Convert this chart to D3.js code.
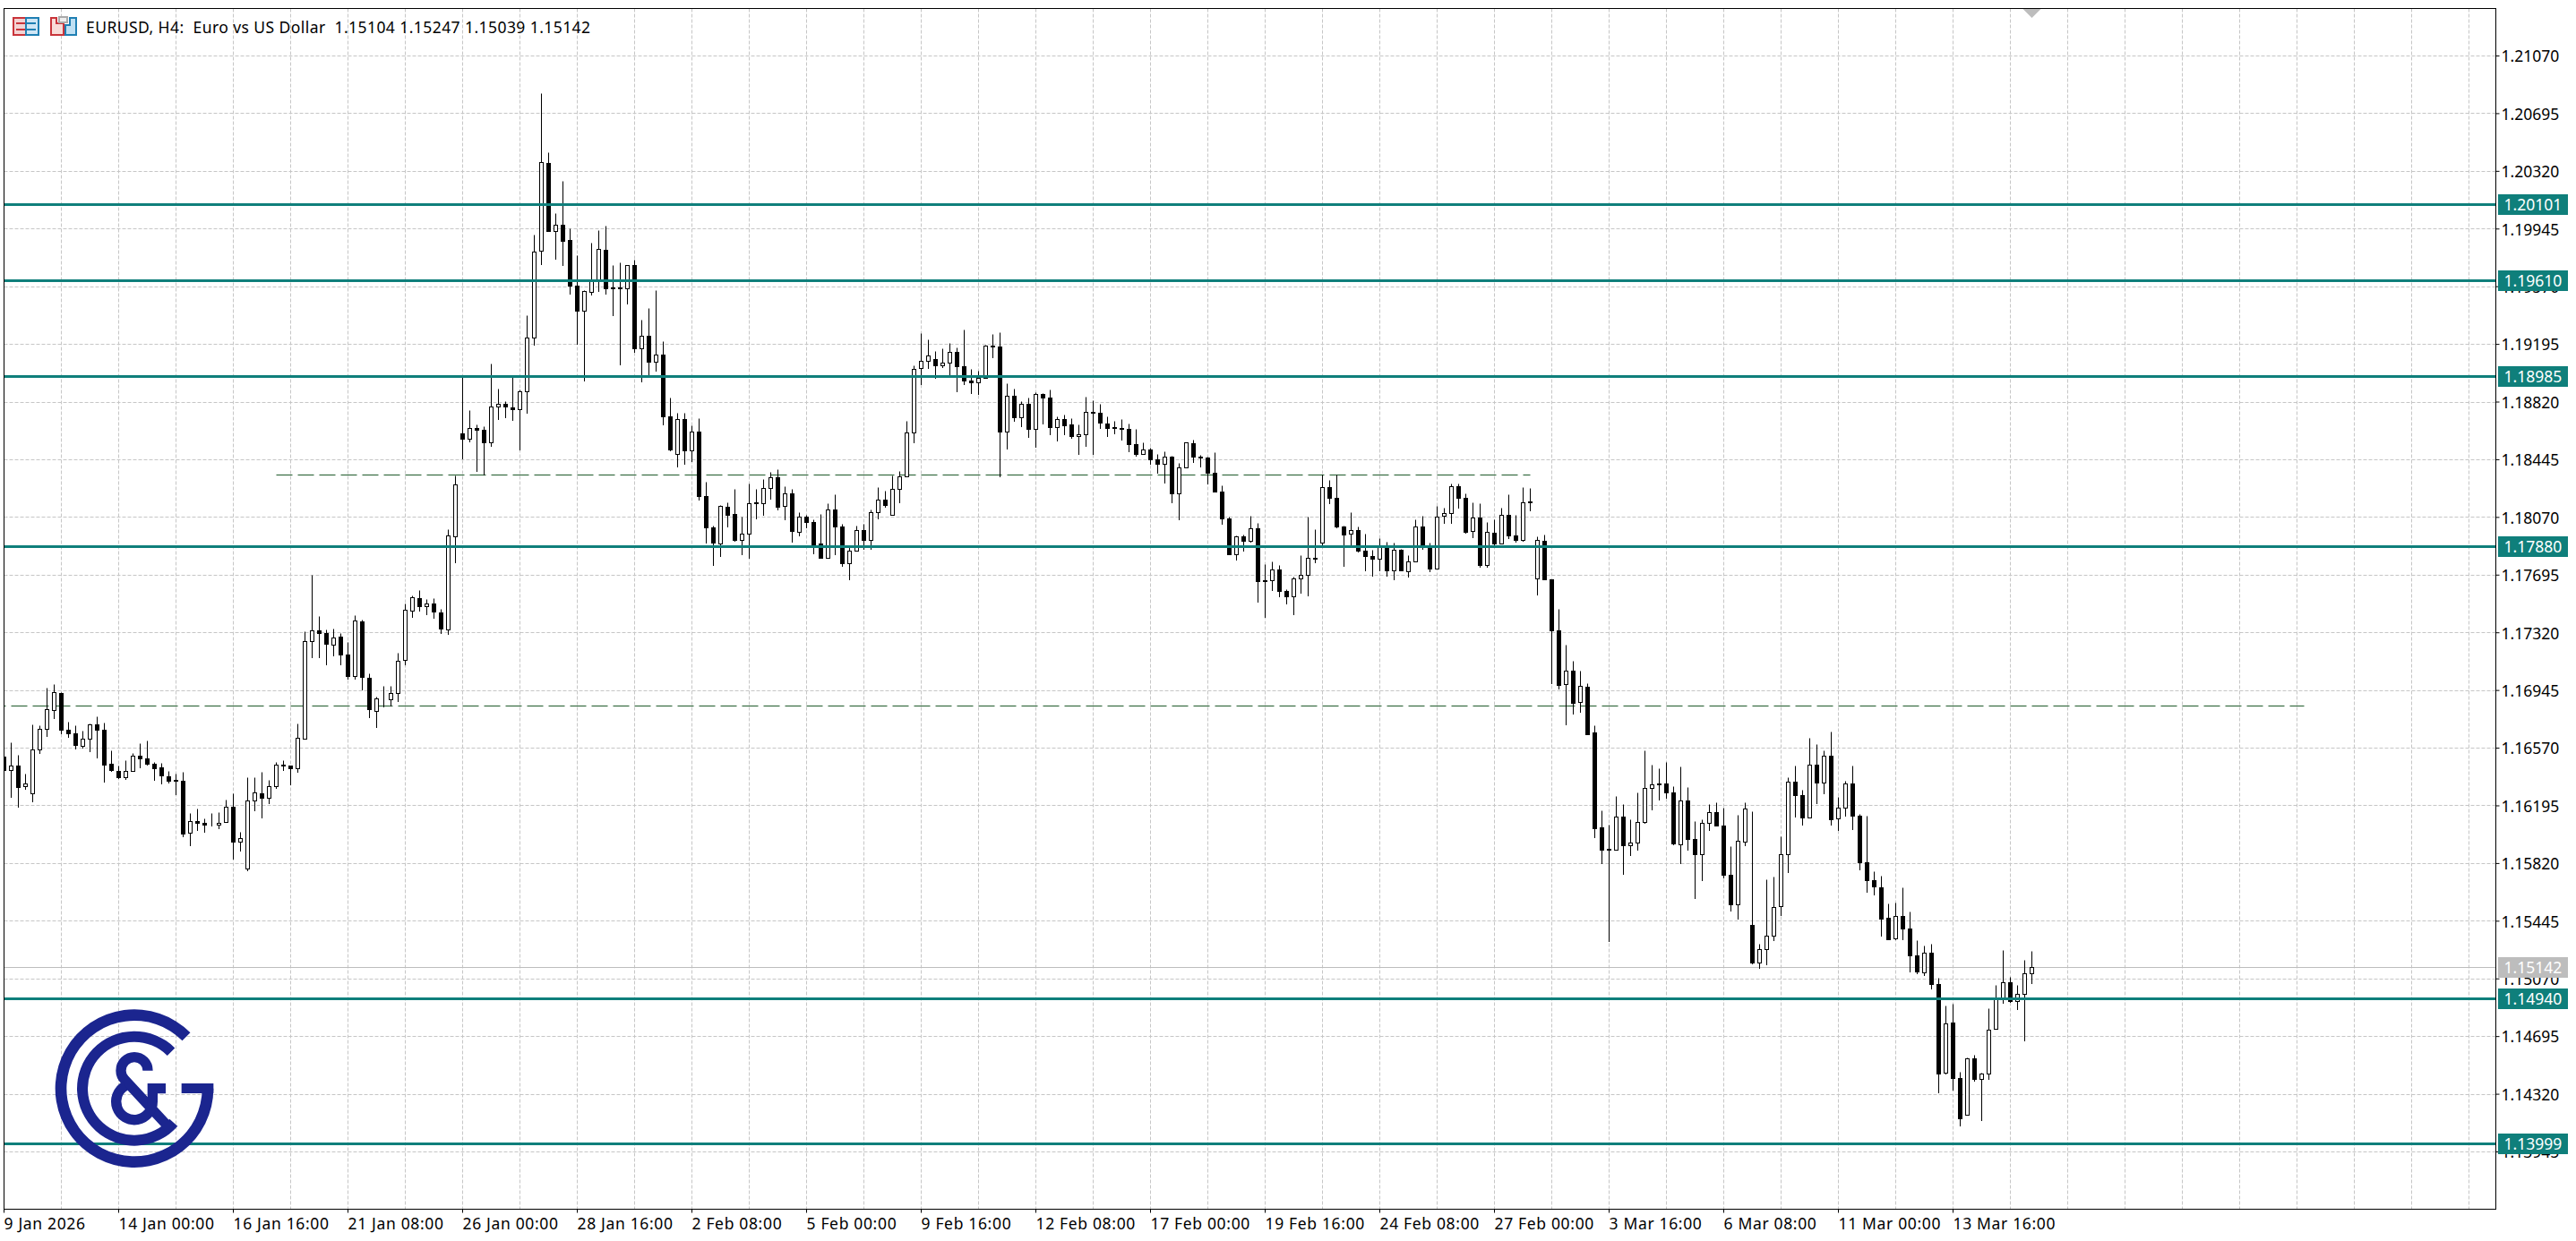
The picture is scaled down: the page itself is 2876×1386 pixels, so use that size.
<!DOCTYPE html>
<html><head><meta charset="utf-8">
<script src="https://cdn.jsdelivr.net/npm/d3@7/dist/d3.min.js"></script>
<style>html,body{margin:0;padding:0;background:#fff;overflow:hidden}svg{display:block}text{font-family:"Noto Sans",Tahoma,sans-serif}</style>
</head><body><svg id="c" width="2876" height="1386"></svg>
<script>
// Prices in points (1 point = 0.00001)
const opens = [
116515,116426,116455,116321,116275,116560,116694,116816,116926,116688,
116664,116581,116630,116723,116688,116467,116420,116377,116420,116519,
116502,116467,116443,116385,116360,116356,116018,116094,116083,116067,
116069,116088,116187,115960,115784,116228,116275,116245,116321,116459,
116455,116438,116630,117264,117334,117316,117241,117293,117177,117037,
117392,117025,116808,116882,116886,116926,117142,117462,117543,117491,
117510,117452,117336,117945,118611,118580,118649,118638,118555,118789,
118805,118785,118771,118887,119237,119803,120371,119930,119970,119868,
119573,119413,119533,119609,119807,119562,119562,119558,119709,119166,
119248,119079,119128,118725,118480,118707,118502,118624,118206,118005,
117896,118139,118090,117921,117961,118166,118159,118259,118328,118141,
118223,117972,118072,118036,117896,117805,118119,118010,117771,117853,
117986,117922,118103,118184,118085,118254,118336,118621,119040,119086,
119098,119057,119075,119145,119051,118958,118947,118976,119185,119180,
118625,118859,118718,118807,118644,118869,118848,118656,118708,118673,
118598,118609,118755,118749,118679,118656,118650,118644,118545,118481,
118510,118446,118415,118464,118223,118392,118551,118464,118458,118357,
118237,118062,117829,117946,117915,117997,117660,117660,117730,117590,
117553,117671,117693,117807,117904,118265,118195,118009,117962,117986,
117852,117817,117799,117875,117724,117858,117718,117782,118009,117887,
117735,118077,118096,118271,118195,117980,118067,117757,117968,117898,
118085,117951,117920,118172,117671,117916,117666,117335,116982,117071,
116868,116967,116670,116053,115911,115906,116123,115935,115952,116086,
116309,116338,116338,116280,115942,116228,115977,115878,116082,116152,
116065,115745,115552,115960,115419,115174,115261,115347,115541,115878,
116350,116262,116117,116460,116342,116519,116109,116179,116338,116129,
115826,115710,115663,115465,115331,115477,115395,115221,115108,115238,
115034,114456,114784,114423,114183,114551,114417,114450,114743,114935,
115046,114924,114970,115104];
const highs = [
116544,116606,116525,116403,116719,116713,116961,116985,116932,116742,
116713,116678,116729,116775,116736,116550,116455,116490,116536,116602,
116618,116478,116474,116420,116403,116414,116143,116176,116108,116143,
116154,116234,116276,116024,116381,116381,116414,116358,116478,116490,
116455,116729,117328,117691,117427,117340,117345,117316,117258,117433,
117404,117054,116901,116973,116973,117188,117508,117561,117596,117537,
117545,117470,117988,118339,118979,118767,118673,118658,119070,118907,
118825,118979,118901,119382,119903,120823,120442,120048,120255,119948,
119774,119547,119854,119937,119966,119709,119727,119709,119743,119353,
119431,119547,119213,118847,118747,118747,118667,118714,118301,118016,
118150,118166,118250,118070,118290,118255,118319,118366,118379,118272,
118250,118099,118083,118056,118090,118157,118219,118027,117874,118016,
118023,118116,118262,118242,118338,118367,118696,119057,119267,119222,
119147,119168,119199,119174,119286,119034,119022,119191,119257,119273,
118937,118906,118824,118848,118883,118877,118900,118726,118737,118714,
118669,118850,118830,118807,118726,118693,118708,118679,118640,118553,
118522,118477,118499,118469,118423,118557,118574,118475,118462,118489,
118277,118074,117951,117957,118080,118032,117761,117784,117759,117600,
117683,117823,118075,117993,118346,118312,118346,118015,118102,118009,
117964,117854,117933,117910,117904,117863,117823,118055,118079,117904,
118143,118131,118288,118288,118224,118166,118160,118038,118055,118131,
118218,118085,118265,118259,117945,117957,117666,117475,117242,117137,
117073,116990,116718,116160,116067,116257,116204,116107,116280,116550,
116462,116437,116480,116321,116449,116315,116094,116105,116204,116216,
116181,115931,116131,116216,116158,115296,115715,115733,115995,116379,
116455,116297,116637,116594,116553,116676,116251,116356,116455,116140,
116129,115768,115739,115558,115564,115663,115506,115321,115286,115298,
115073,114891,114908,114464,114557,114571,114456,114877,115025,115252,
115083,115030,115188,115247];
const lows = [
116389,116253,116185,116302,116220,116535,116645,116761,116666,116639,
116564,116569,116546,116505,116348,116418,116372,116366,116418,116441,
116459,116360,116337,116342,116267,115993,115935,116034,116022,116063,
116046,116086,115848,115900,115772,116162,116115,116209,116309,116424,
116331,116412,116628,117157,117157,117111,117169,117111,117018,117018,
116948,116767,116703,116837,116843,116872,117111,117419,117460,117437,
117417,117318,117312,117773,118448,118560,118368,118344,118531,118709,
118718,118702,118506,118745,119190,119714,119928,119747,119707,119520,
119195,118959,119516,119538,119520,119382,119061,119460,119146,118950,
118988,119019,118671,118502,118397,118415,118435,118181,117905,117760,
117818,118010,117916,117829,117802,118059,118085,118190,118117,118054,
117907,117949,118001,117831,117802,117802,117827,117752,117666,117851,
117864,117862,118060,118136,118083,118165,118334,118553,118931,119036,
118976,119044,118993,118885,118933,118875,118867,118974,119106,118336,
118512,118695,118660,118590,118524,118675,118607,118565,118607,118586,
118479,118532,118479,118648,118596,118613,118570,118497,118468,118479,
118415,118359,118293,118165,118054,118390,118427,118398,118289,118233,
118025,117827,117792,117851,117909,117518,117423,117594,117553,117506,
117437,117576,117559,117774,117883,118158,118005,117751,117883,117844,
117720,117687,117720,117687,117664,117720,117681,117780,117863,117716,
117733,118030,118030,118129,117970,117937,117747,117745,117894,117896,
117931,117908,117914,118110,117565,117662,116988,116957,116720,116790,
116806,116658,115991,115820,115312,115904,115752,115874,115904,116084,
116171,116233,116247,115944,115822,115904,115591,115706,116032,116061,
115729,115508,115461,115935,115168,115137,115161,115320,115481,115760,
116121,116072,116115,116208,116276,116068,116032,116127,116039,115777,
115636,115615,115345,115323,115325,115327,115116,115102,115094,115003,
114332,114454,114349,114111,114181,114402,114148,114415,114741,114910,
114920,114869,114664,115039];
const closes = [
116424,116455,116315,116339,116560,116694,116822,116932,116686,116663,
116587,116630,116723,116686,116459,116424,116377,116420,116519,116500,
116465,116436,116391,116354,116354,116011,116092,116081,116069,116071,
116083,116187,115960,115982,116228,116280,116244,116321,116461,116453,
116436,116635,117264,117334,117314,117245,117287,117175,117035,117398,
117031,116820,116890,116886,116924,117136,117468,117549,117491,117508,
117458,117347,117947,118284,118578,118649,118638,118555,118789,118805,
118787,118769,118887,119235,119796,120378,119928,119970,119863,119573,
119413,119540,119609,119814,119556,119556,119556,119709,119166,119248,
119079,119128,118722,118506,118705,118502,118624,118206,118001,117905,
118143,118085,117921,117963,118159,118159,118257,118328,118139,118223,
117978,118072,118039,117894,117805,118117,118007,117769,117853,117986,
117920,118103,118184,118145,118254,118336,118621,119034,119086,119121,
119055,119075,119145,119051,118958,118947,118976,119185,119180,118625,
118859,118718,118807,118644,118871,118846,118656,118708,118667,118598,
118609,118755,118747,118685,118650,118650,118644,118545,118479,118510,
118446,118415,118464,118223,118392,118557,118462,118458,118357,118235,
118062,117829,117946,117915,117998,117652,117652,117730,117588,117553,
117671,117693,117805,117801,118265,118193,118007,117955,117984,117850,
117815,117797,117875,117722,117858,117722,117780,118009,117887,117733,
118073,118096,118271,118193,117972,118067,117757,117974,117896,118085,
117949,117920,118166,118166,117922,117664,117332,116980,117071,116864,
116973,116660,116049,115904,115906,116123,115933,115952,116088,116309,
116332,116330,116278,115946,116228,115975,115876,116082,116152,116063,
115741,115551,115966,116175,115172,115260,115347,115535,115878,116350,
116261,116115,116458,116342,116517,116103,116179,116338,116127,115824,
115708,115667,115457,115327,115477,115393,115219,115114,115238,115032,
114450,114778,114421,114159,114551,114415,114452,114737,114935,115046,
114922,114970,115104,115142];
const priceTicks = [1.2107,1.20695,1.2032,1.19945,1.1957,1.19195,1.1882,1.18445,1.1807,1.17695,1.1732,1.16945,1.1657,1.16195,1.1582,1.15445,1.1507,1.14695,1.1432,1.13945];
const levels = [1.20101,1.1961,1.18985,1.1788,1.1494,1.13999];
const dashedLevels = [{price:1.18347,from:38,to:213},{price:1.16845,from:-2,to:321}];
const lastPrice = 1.15142;
const dateLabels = ["9 Jan 2026","14 Jan 00:00","16 Jan 16:00","21 Jan 08:00","26 Jan 00:00","28 Jan 16:00","2 Feb 08:00","5 Feb 00:00","9 Feb 16:00","12 Feb 08:00","17 Feb 00:00","19 Feb 16:00","24 Feb 08:00","27 Feb 00:00","3 Mar 16:00","6 Mar 08:00","11 Mar 00:00","13 Mar 16:00"];
const title = "EURUSD, H4:  Euro vs US Dollar  1.15104 1.15247 1.15039 1.15142";

const L=4.5,R=2786.5,T=9.5,B=1350.5,TEAL="#0f7f7b",GRID="#c6c6c6",GREY="#bdbdbd",FS=17.5;
const x=d3.scaleLinear().domain([0,347.75]).range([L,R]);
const yRaw=d3.scaleLinear().domain([1.2107,1.13945]).range([62.5,1286.5]);
const y=p=>Math.round(yRaw(p)-0.5)+0.5;
const yp=v=>y(v/1e5);
const svg=d3.select("#c");
svg.append("defs").append("clipPath").attr("id","plot").append("rect").attr("x",L).attr("y",T).attr("width",R-L).attr("height",B-T);
const plot=svg.append("g").attr("clip-path","url(#plot)");

// grid
const gridDash="4 2";
plot.append("g").selectAll("line").data(d3.range(8,348,8)).join("line")
 .attr("x1",d=>x(d)).attr("x2",d=>x(d)).attr("y1",T).attr("y2",B).attr("stroke",GRID).attr("stroke-dasharray",gridDash);
plot.append("g").selectAll("line").data(priceTicks).join("line")
 .attr("x1",L).attr("x2",R).attr("y1",y).attr("y2",y).attr("stroke",GRID).attr("stroke-dasharray",gridDash);

// last price line
plot.append("line").attr("x1",L).attr("x2",R).attr("y1",y(lastPrice)).attr("y2",y(lastPrice)).attr("stroke",GREY);

// dashed levels
plot.append("g").selectAll("line").data(dashedLevels).join("line")
 .attr("x1",d=>x(d.from)).attr("x2",d=>x(d.to)).attr("y1",d=>y(d.price)).attr("y2",d=>y(d.price))
 .attr("stroke","#1f5a2a").attr("stroke-dasharray","18 6");

// candles
const idx=d3.range(opens.length);
plot.append("g").selectAll("line").data(idx).join("line")
 .attr("x1",i=>x(i)).attr("x2",i=>x(i)).attr("y1",i=>yp(highs[i])).attr("y2",i=>yp(lows[i])+0.5).attr("stroke","#000");
plot.append("g").selectAll("rect").data(idx).join("rect")
 .attr("x",i=>x(i)-2).attr("width",4)
 .attr("y",i=>yp(Math.max(opens[i],closes[i])))
 .attr("height",i=>yp(Math.min(opens[i],closes[i]))-yp(Math.max(opens[i],closes[i])))
 .attr("fill",i=>closes[i]>opens[i]?"#fff":"#000").attr("stroke","#000").attr("shape-rendering","crispEdges");

// solid levels
plot.append("g").selectAll("line").data(levels).join("line")
 .attr("x1",L).attr("x2",R).attr("y1",y).attr("y2",y).attr("stroke",TEAL).attr("stroke-width",3);

// logo (in a 3x local space)
const NAVY="#1b258f";
const logo=plot.append("g").attr("transform","translate(0,1100) scale(0.33333)");
const deg=Math.PI/180;
const arc=d3.arc();
logo.append("path").attr("transform","translate(450,347)").attr("fill",NAVY)
 .attr("d",arc({innerRadius:227,outerRadius:265,startAngle:90*deg,endAngle:405*deg}));
logo.append("path").attr("transform","translate(450,347)").attr("fill",NAVY)
 .attr("d",arc({innerRadius:156,outerRadius:192,startAngle:131*deg,endAngle:405*deg}));
logo.append("rect").attr("x",608).attr("y",330).attr("width",107).attr("height",33).attr("fill",NAVY);
logo.append("path").attr("fill","none").attr("stroke",NAVY).attr("stroke-width",34)
 .attr("d","M495,287 A45,45 0 0 0 405,287 Q405,305 418,318 L574,486");
logo.append("path").attr("fill","none").attr("stroke",NAVY).attr("stroke-width",34)
 .attr("d","M420,338 A61,61 0 1 0 511,391 L511,347 L555,347");

// frame
svg.append("rect").attr("x",L).attr("y",T).attr("width",R-L).attr("height",B-T).attr("fill","none").attr("stroke","#000");

// shift marker
svg.append("path").attr("fill",GREY).attr("d",`M${x(283)-10},${T+0.5}L${x(283)+10},${T+0.5}L${x(283)},${T+10.5}Z`);

// axes
const yAxis=d3.axisRight(yRaw).tickValues(priceTicks).tickFormat(d3.format(".5f")).tickSize(4).tickPadding(2).offset(0);
const ga=svg.append("g").attr("transform",`translate(${R},0)`).call(yAxis);
ga.select(".domain").remove();
ga.selectAll("text").attr("font-size",FS).attr("font-family",'"Noto Sans",sans-serif').attr("dy","0.39em").attr("fill","#000");
ga.selectAll("line").attr("stroke","#000");
const xAxis=d3.axisBottom(x).tickValues(dateLabels.map((_,i)=>i*16)).tickFormat((_,i)=>dateLabels[i]).tickSize(4).tickPadding(6).offset(0);
const gx=svg.append("g").attr("transform",`translate(0,${B})`).call(xAxis);
gx.select(".domain").remove();
gx.selectAll("text").attr("font-size",FS).attr("font-family",'"Noto Sans",sans-serif').attr("text-anchor","start").attr("letter-spacing","0.66px").attr("fill","#000");
gx.selectAll("line").attr("stroke","#000");

// price tags
const tags=levels.map(p=>({p,c:TEAL})).concat([{p:lastPrice,c:GREY}]);
const tg=svg.append("g").selectAll("g").data(tags).join("g").attr("transform",d=>`translate(2789,${y(d.p)-11.5})`);
tg.append("rect").attr("width",78).attr("height",23).attr("fill",d=>d.c);
tg.append("text").attr("x",6.5).attr("y",11.5).attr("dy","0.39em").attr("font-size",FS).attr("fill","#fff").text(d=>d3.format(".5f")(d.p));

// header
svg.append("text").attr("x",96).attr("y",30.7).attr("dy","0.36em").attr("font-size",FS).attr("letter-spacing","0.43px").attr("xml:space","preserve").style("white-space","pre").attr("fill","#000").text(title);
const ic=svg.append("g").attr("fill","none").attr("stroke-width",2);
ic.append("rect").attr("x",15).attr("y",20).attr("width",14).attr("height",19).attr("fill","#f3d3d3").attr("stroke","#c9343a");
ic.append("rect").attr("x",29).attr("y",20).attr("width",14).attr("height",19).attr("fill","#cfe6f5").attr("stroke","#1f7fb3");
ic.selectAll(".s").data([26,33]).join("g").each(function(d){const g=d3.select(this);
 g.append("line").attr("x1",18).attr("x2",28).attr("y1",d).attr("y2",d).attr("stroke","#c9343a");
 g.append("line").attr("x1",30).attr("x2",40).attr("y1",d).attr("y2",d).attr("stroke","#1f7fb3");});
ic.append("path").attr("d","M57,20H63V26H71V39H57Z").attr("fill","#f8dcd8").attr("stroke","#c9343a");
ic.append("path").attr("d","M78,20H85V39H73V28H78Z").attr("fill","#bfe0f3").attr("stroke","#1f7fb3");
ic.append("rect").attr("x",66).attr("y",19).attr("width",9).attr("height",6).attr("stroke","#aaa").attr("fill","#eee");
</script></body></html>
